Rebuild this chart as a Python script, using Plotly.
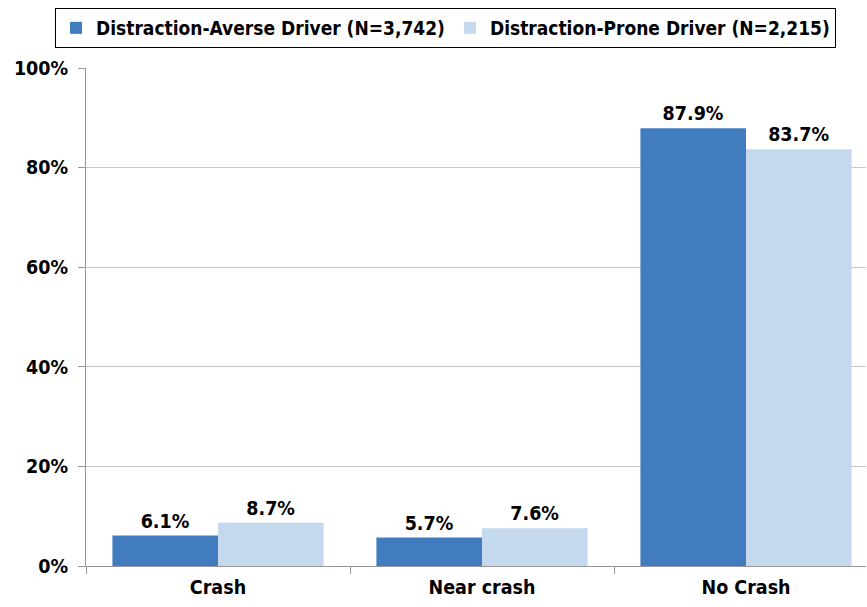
import plotly.graph_objects as go

categories = ["Crash", "Near crash", "No Crash"]
averse_values = [6.1, 5.7, 87.9]
prone_values = [8.7, 7.6, 83.7]
series_names = ["Distraction-Averse Driver (N=3,742)", "Distraction-Prone Driver (N=2,215)"]
y_ticks = [0, 20, 40, 60, 80, 100]

FONT = "DejaVu Sans Condensed, Liberation Sans, Arial, sans-serif"
SIZE = 19.5
label_font = dict(family=FONT, size=SIZE, color="black")

fig = go.Figure()
fig.add_trace(go.Bar(
    x=categories, y=averse_values, name=f"<b>{series_names[0]}</b>",
    marker=dict(color="#417CBE", line=dict(width=0)),
    text=averse_values, texttemplate="<b>%{y:.1f}%</b>", textposition="outside",
    textfont=label_font, cliponaxis=False,
))
fig.add_trace(go.Bar(
    x=categories, y=prone_values, name=f"<b>{series_names[1]}</b>",
    marker=dict(color="#C4D8EE", line=dict(width=0)),
    text=prone_values, texttemplate="<b>%{y:.1f}%</b>", textposition="outside",
    textfont=label_font, cliponaxis=False,
))

fig.update_layout(
    width=867, height=607,
    margin=dict(l=86, r=1, t=68, b=41, autoexpand=False),
    paper_bgcolor="white", plot_bgcolor="white",
    barmode="group", bargap=0.2, bargroupgap=0,
    font=dict(family=FONT, size=SIZE, color="black"),
    legend=dict(
        orientation="h", x=-0.0397, xanchor="left", y=1.1205, yanchor="top",
        bordercolor="black", borderwidth=1, bgcolor="white",
        font=dict(family=FONT, size=19, color="black"),
        itemsizing="constant", tracegroupgap=0,
    ),
)

fig.update_xaxes(
    type="category", range=[-0.5, 2.4545], tickson="boundaries",
    ticks="outside", ticklen=7, tickcolor="#969696",
    showline=True, linecolor="#969696", linewidth=1,
    tickfont=dict(family=FONT, size=SIZE, color="black"),
    tickvals=categories, ticktext=[f"<b>{c}</b>" for c in categories],
    ticklabelstandoff=4, showgrid=False,
)
fig.update_yaxes(
    range=[0, 100], tickvals=y_ticks, ticktext=[f"<b>{v}%</b>" for v in y_ticks],
    ticks="outside", ticklen=7, tickcolor="#969696",
    showline=True, linecolor="#969696", linewidth=1,
    showgrid=True, gridcolor="#c6c6c6", gridwidth=1,
    tickfont=dict(family=FONT, size=SIZE, color="black"),
    ticklabelstandoff=6, zeroline=False,
)

fig.write_html("out.html")
